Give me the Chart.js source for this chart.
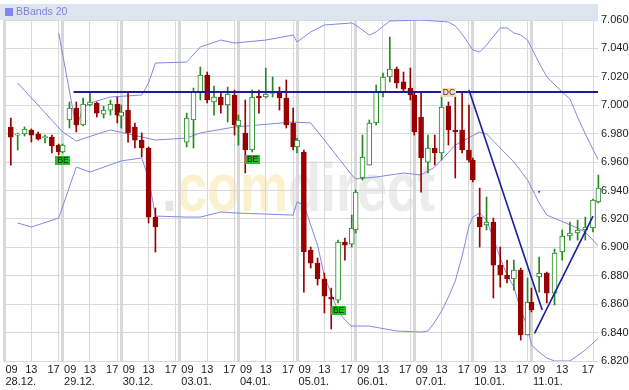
<!DOCTYPE html>
<html>
<head>
<meta charset="utf-8">
<script src="https://cdn.jsdelivr.net/npm/chart.js@4.4.1/dist/chart.umd.min.js"></script>
<style>
  html, body { margin: 0; padding: 0; background: #fff; }
  canvas { display: block; }
</style>
</head>
<body>
<canvas id="chart" width="629" height="390"></canvas>
<script>
// sessions shown on the x axis
const dayLabels = ['28.12.', '29.12.', '30.12.', '03.01.', '04.01.', '05.01.', '06.01.', '07.01.', '10.01.', '11.01.'];
// hourly candles per session
const sessionHours = [
  [10, 11, 12, 13, 14, 15, 16, 17],
  [9, 10, 11, 12, 13, 14, 15, 16, 17],
  [9, 10, 11, 12, 13, 14],
  [10, 11, 12, 13, 14, 15, 16, 17],
  [9, 10, 11, 12, 13, 14, 15, 16, 17],
  [9, 10, 11, 12, 13, 14, 15, 16, 17],
  [9, 10, 11, 12, 13, 14, 15, 16, 17],
  [9, 10, 11, 12, 13, 14, 15, 16, 17],
  [9, 10, 11, 12, 13, 14, 15, 16, 17],
  [9, 10, 11, 12, 13, 14, 15, 16, 17, 17.7]
];

const opens = [
  6.9847, 6.9790, 6.9798, 6.9826, 6.9798, 6.9772, 6.9776, 6.9720,
  6.9671, 6.9896, 6.9980, 6.9861, 7.0002, 7.0016, 6.9938, 6.9966, 7.0009,
  6.9924, 6.9966, 6.9847, 6.9755, 6.9699, 6.9213,
  6.9741, 6.9896, 7.0093, 7.0213, 7.0023, 7.0058, 7.0002, 7.0072,
  6.9854, 6.9805, 6.9685, 7.0065, 7.0058, 7.0083, 7.0086, 7.0051, 6.9875,
  6.9706, 6.9671, 6.8981, 6.8889, 6.8777, 6.8650, 6.8629, 6.9037, 6.9023,
  6.9122, 6.9488, 6.9579, 6.9875, 7.0093, 7.0199, 7.0255, 7.0164, 7.0121,
  7.0072, 6.9917, 6.9600, 6.9699, 6.9664, 6.9995, 6.9826, 6.9826, 6.9685,
  6.9614, 6.9213, 6.9157, 6.9178, 6.8875, 6.8805, 6.8777, 6.8840, 6.8383,
  6.8615, 6.8791, 6.8819, 6.8678, 6.8967, 6.9080, 6.9101, 6.9122, 6.9136, 6.9319
];
const highs = [
  6.9910, 6.9805, 6.9847, 6.9833, 6.9812, 6.9790, 6.9790, 6.9727,
  6.9727, 7.0023, 7.0023, 7.0051, 7.0093, 7.0023, 6.9995, 7.0037, 7.0058,
  7.0002, 7.0086, 6.9875, 6.9805, 6.9706, 6.9277,
  6.9945, 7.0121, 7.0269, 7.0234, 7.0135, 7.0086, 7.0128, 7.0107,
  6.9931, 7.0037, 7.0107, 7.0107, 7.0262, 7.0199, 7.0128, 7.0178, 6.9980,
  6.9769, 6.9685, 6.9002, 6.8925, 6.8819, 6.8713, 6.9051, 6.9065, 6.9227,
  6.9403, 6.9790, 6.9896, 7.0142, 7.0227, 7.0480, 7.0269, 7.0234, 7.0262,
  7.0086, 7.0093, 6.9790, 6.9790, 7.0072, 7.0023, 7.0072, 7.0093, 7.0002,
  6.9629, 6.9417, 6.9354, 6.9206, 6.9002, 6.8910, 6.8910, 6.8854, 6.8784,
  6.8713, 6.8932, 6.8826, 6.8988, 6.9122, 6.9178, 6.9192, 6.9213, 6.9340, 6.9509
];
const lows = [
  6.9579, 6.9685, 6.9783, 6.9741, 6.9755, 6.9734, 6.9664, 6.9650,
  6.9664, 6.9840, 6.9812, 6.9854, 6.9995, 6.9917, 6.9910, 6.9931, 6.9875,
  6.9840, 6.9741, 6.9699, 6.9636, 6.9171, 6.8967,
  6.9706, 6.9699, 7.0037, 7.0016, 6.9931, 6.9945, 6.9882, 6.9790,
  6.9720, 6.9523, 6.9671, 6.9945, 7.0051, 7.0058, 6.9966, 6.9840, 6.9685,
  6.9664, 6.8685, 6.8854, 6.8735, 6.8538, 6.8425, 6.8608, 6.8910, 6.9002,
  6.9101, 6.9474, 6.9579, 6.9861, 7.0058, 7.0164, 7.0121, 7.0093, 7.0037,
  6.9790, 6.9389, 6.9523, 6.9579, 6.9614, 6.9720, 6.9488, 6.9664, 6.9600,
  6.9460, 6.9002, 6.9122, 6.8643, 6.8720, 6.8749, 6.8699, 6.8347, 6.8383,
  6.8545, 6.8685, 6.8608, 6.8594, 6.8910, 6.9051, 6.9051, 6.9051, 6.9108, 6.9312
];
const closes = [
  6.9776, 6.9797, 6.9833, 6.9790, 6.9762, 6.9779, 6.9713, 6.9671,
  6.9720, 6.9980, 6.9861, 7.0009, 7.0023, 6.9945, 6.9966, 7.0009, 6.9931,
  6.9952, 6.9805, 6.9755, 6.9699, 6.9213, 6.9143,
  6.9910, 7.0093, 7.0213, 7.0037, 7.0058, 7.0002, 7.0079, 6.9861,
  6.9896, 6.9685, 7.0058, 7.0051, 7.0079, 7.0089, 7.0051, 6.9861, 6.9706,
  6.9755, 6.8967, 6.8889, 6.8777, 6.8657, 6.8636, 6.9037, 6.9016, 6.9136,
  6.9389, 6.9636, 6.9875, 7.0093, 7.0199, 7.0255, 7.0157, 7.0114, 7.0072,
  6.9812, 6.9630, 6.9699, 6.9664, 6.9988, 6.9826, 6.9812, 6.9685, 6.9614,
  6.9474, 6.9143, 6.9178, 6.8875, 6.8805, 6.8777, 6.8840, 6.8383, 6.8615,
  6.8559, 6.8819, 6.8678, 6.8960, 6.9080, 6.9101, 6.9122, 6.9143, 6.9333, 6.9417
];

// Bollinger bands (20), sampled at candle index
const upperBand = [
  [7, 7.0509], [10, 6.9840], [11, 6.9980], [12, 7.0016], [15, 7.0058], [20, 7.0072],
  [21, 7.0157], [22, 7.0297], [23, 7.0304], [25, 7.0410], [28, 7.0459], [30, 7.0438],
  [35, 7.0459], [39, 7.0494], [40, 7.0445], [41, 7.0480], [42, 7.0516], [44, 7.0565],
  [48, 7.0579], [49, 7.0565], [51, 7.0494], [52, 7.0516], [54, 7.0593], [59, 7.0600],
  [61, 7.0593], [63, 7.0586], [64, 7.0558], [65, 7.0501], [67, 7.0389], [68, 7.0375],
  [69, 7.0424], [71, 7.0544], [72, 7.0544], [73, 7.0509], [74, 7.0494], [75, 7.0459],
  [77, 7.0297], [78, 7.0199], [80, 7.0093], [81, 7.0044], [82, 6.9917], [83, 6.9798],
  [85, 6.9614]
];
const middleBand = [
  [1, 7.0157], [8, 6.9812], [10, 6.9748], [14, 6.9812], [15, 6.9826], [22, 6.9755],
  [23, 6.9769], [25, 6.9805], [30, 6.9847], [39, 6.9882], [42, 6.9875], [44, 6.9755],
  [48, 6.9509], [49, 6.9481], [52, 6.9495], [56, 6.9523], [59, 6.9509], [61, 6.9565],
  [64, 6.9720], [68, 6.9812], [69, 6.9798], [71, 6.9699], [73, 6.9600], [75, 6.9474],
  [77, 6.9312], [78, 6.9227], [82, 6.9136], [83, 6.9108], [85, 6.9009]
];
const lowerBand = [
  [1, 6.9171], [3, 6.9143], [7, 6.9206], [10, 6.9565], [12, 6.9530], [17, 6.9608],
  [20, 6.9629], [21, 6.9488], [22, 6.9220], [23, 6.9213], [25, 6.9213], [28, 6.9249],
  [30, 6.9242], [39, 6.9227], [40, 6.9319], [41, 6.9298], [43, 6.9016], [44, 6.8798],
  [45, 6.8672], [46, 6.8552], [47, 6.8489], [48, 6.8446], [51, 6.8446], [55, 6.8411],
  [59, 6.8404], [60, 6.8411], [61, 6.8474], [62, 6.8552], [63, 6.8650], [64, 6.8763],
  [65, 6.8939], [66, 6.9150], [67, 6.9213], [68, 6.9242], [69, 6.9192], [70, 6.9065],
  [71, 6.8925], [72, 6.8805], [73, 6.8720], [74, 6.8559], [75, 6.8439], [76, 6.8312],
  [77, 6.8263], [78, 6.8221], [79, 6.8200], [81, 6.8200], [83, 6.8277], [85, 6.8362]
];

// drawn lines: [session, hour, price]
const resistanceStart = [1, 10.6];
const resistanceLevel = 7.0093;
const trendDown = [[7, 17, 7.0107], [9, 10.4, 6.8559]];
const trendUp = [[9, 9.4, 6.8395], [9, 17, 6.9220]];
const dots = [[77, 6.9392]];

// signal flags: [candle index, text]
const signals = [[8, 'BE'], [33, 'BE'], [46, 'BE'], [63, 'DC']];

const yMin = 6.82, yMax = 7.06, yStep = 0.02;

// time axis: one unit per trading hour, each session 09-17 plus the night gap
const DAY_SLOT = 8.57;
const X_MAX = 86.86;
const hourWidth = d => d === dayLabels.length - 1 ? 1.125 : 1;
const timePos = (d, h) => d * DAY_SLOT + (h - 9) * hourWidth(d);

const candleX = [];
sessionHours.forEach((hs, d) => hs.forEach(h => candleX.push(timePos(d, h))));

const UP = '#1f8a1f', DOWN = '#990000';
const isUp = i => closes[i] >= opens[i];

const gridTicks = [];
dayLabels.forEach((_, d) => {
  gridTicks.push({ value: timePos(d, 9), major: true });
  gridTicks.push({ value: timePos(d, 13) });
  gridTicks.push({ value: timePos(d, 17) });
});

const bandSet = (pts) => ({
  type: 'line',
  data: pts.map(([i, v]) => ({ x: candleX[i], y: v })),
  borderColor: '#8585e2',
  borderWidth: 1,
  pointRadius: 0,
  order: 3
});
const navySet = (pts, w) => ({
  type: 'line',
  data: pts,
  borderColor: '#1c1c98',
  borderWidth: w,
  pointRadius: 0,
  order: 0
});

const decor = {
  id: 'decor',
  beforeDraw(chart) {
    // watermark
    const ctx = chart.ctx;
    ctx.save();
    ctx.font = 'bold 66px "Liberation Sans", Arial, sans-serif';
    ctx.textBaseline = 'alphabetic';
    const full = ctx.measureText('.comdirect').width;
    ctx.translate(162, 211);
    ctx.scale(273 / full, 1.05);
    let x = 0;
    [['.', '#e6e6e6'], ['com', '#fcf1cf'], ['direct', '#ececec']].forEach(([s, c]) => {
      ctx.fillStyle = c;
      ctx.fillText(s, x, 0);
      x += ctx.measureText(s).width;
    });
    ctx.restore();
  },
  afterDatasetsDraw(chart) {
    const { ctx, scales: { x: xs, y: ys } } = chart;
    ctx.save();
    ctx.font = '8.5px "Liberation Sans", Arial, sans-serif';
    ctx.textAlign = 'center';
    ctx.textBaseline = 'middle';
    signals.forEach(([i, txt]) => {
      const px = xs.getPixelForValue(candleX[i]);
      const w = 15, h = 9;
      let top;
      if (txt === 'DC') {
        top = ys.getPixelForValue(highs[i]) - 5 - h;
        ctx.fillStyle = '#f9d9bd';
      } else {
        top = ys.getPixelForValue(lows[i]) + 3;
        ctx.fillStyle = '#22c022';
      }
      ctx.fillRect(Math.round(px - w / 2), Math.round(top), w, h);
      ctx.fillStyle = txt === 'DC' ? '#333' : '#111';
      ctx.fillText(txt, px + 0.5, Math.round(top) + h / 2 + 0.5);
    });
    ctx.restore();
  },
  afterDraw(chart) {
    const { ctx, chartArea: a, scales: { x: xs } } = chart;
    ctx.save();
    // indicator caption bar
    ctx.fillStyle = '#dde5ef';
    ctx.fillRect(0, 4, a.right, 16);
    ctx.fillStyle = '#8585ee';
    ctx.fillRect(5, 8, 8, 8);
    ctx.fillStyle = '#8282dc';
    ctx.font = '10.5px "Liberation Sans", Arial, sans-serif';
    ctx.textBaseline = 'middle';
    ctx.textAlign = 'left';
    ctx.fillText('BBands 20', 16, 12.5);
    // time labels
    ctx.fillStyle = '#222';
    ctx.font = '11px "Liberation Sans", Arial, sans-serif';
    const r1 = a.bottom + 9, r2 = a.bottom + 20.5;
    dayLabels.forEach((lab, d) => {
      const p0 = xs.getPixelForValue(timePos(d, 9));
      const p13 = xs.getPixelForValue(timePos(d, 13));
      const p17 = xs.getPixelForValue(timePos(d, 17));
      ctx.textAlign = 'left';
      ctx.fillText('09', Math.max(0, p0 + 1.5), r1);
      ctx.fillText(lab, Math.max(0, p0 + 1.5), r2);
      ctx.textAlign = 'center';
      ctx.fillText('13', p13, r1);
      ctx.textAlign = 'right';
      ctx.fillText('17', p17 + 1, r1);
    });
    ctx.restore();
  }
};

Chart.defaults.font.family = '"Liberation Sans", Arial, sans-serif';

new Chart(document.getElementById('chart'), {
  type: 'bar',
  data: {
    datasets: [
      {
        type: 'bar',
        data: candleX.map((x, i) => ({ x, y: [opens[i], closes[i]] })),
        backgroundColor: candleX.map((_, i) => isUp(i) ? '#ffffff' : DOWN),
        borderColor: candleX.map((_, i) => isUp(i) ? UP : DOWN),
        borderWidth: 1,
        borderSkipped: false,
        barThickness: 5,
        minBarLength: 1,
        grouped: false,
        order: 1,
        clip: { left: 0, top: 0, right: 4, bottom: 0 }
      },
      {
        type: 'bar',
        data: candleX.map((x, i) => ({ x, y: [lows[i], highs[i]] })),
        backgroundColor: candleX.map((_, i) => isUp(i) ? UP : DOWN),
        borderWidth: 0,
        barThickness: 1,
        grouped: false,
        order: 2,
        clip: { left: 0, top: 0, right: 4, bottom: 0 }
      },
      bandSet(upperBand),
      bandSet(middleBand),
      bandSet(lowerBand),
      navySet([{ x: timePos(...resistanceStart), y: resistanceLevel }, { x: X_MAX, y: resistanceLevel }], 2),
      navySet(trendDown.map(([d, h, v]) => ({ x: timePos(d, h), y: v })), 1.6),
      navySet(trendUp.map(([d, h, v]) => ({ x: timePos(d, h), y: v })), 1.6),
      {
        type: 'line',
        data: dots.map(([i, v]) => ({ x: candleX[i], y: v })),
        showLine: false,
        pointRadius: 1,
        pointBorderWidth: 0,
        pointBackgroundColor: '#3a3a70',
        order: 0
      }
    ]
  },
  options: {
    responsive: false,
    animation: false,
    events: [],
    layout: { padding: { top: 20, left: 0, right: 0, bottom: 0 } },
    plugins: { legend: { display: false }, tooltip: { enabled: false } },
    scales: {
      x: {
        type: 'linear',
        min: 0,
        max: X_MAX,
        offset: false,
        border: { display: false },
        grid: {
          offset: false,
          drawTicks: false,
          color: '#d9d9d9',
          lineWidth: c => (c.tick && c.tick.major) ? 3 : 1
        },
        ticks: { display: false },
        afterBuildTicks: s => { s.ticks = gridTicks.map(t => ({ ...t })); },
        afterFit: s => { s.height = 29; }
      },
      y: {
        position: 'right',
        min: yMin,
        max: yMax,
        border: { display: false },
        grid: { color: '#d9d9d9', drawTicks: false },
        ticks: {
          stepSize: yStep,
          padding: 3,
          color: '#222',
          font: { size: 11 },
          callback: v => v.toFixed(3)
        },
        afterFit: s => { s.width = 31; }
      }
    }
  },
  plugins: [decor]
});
</script>
</body>
</html>
